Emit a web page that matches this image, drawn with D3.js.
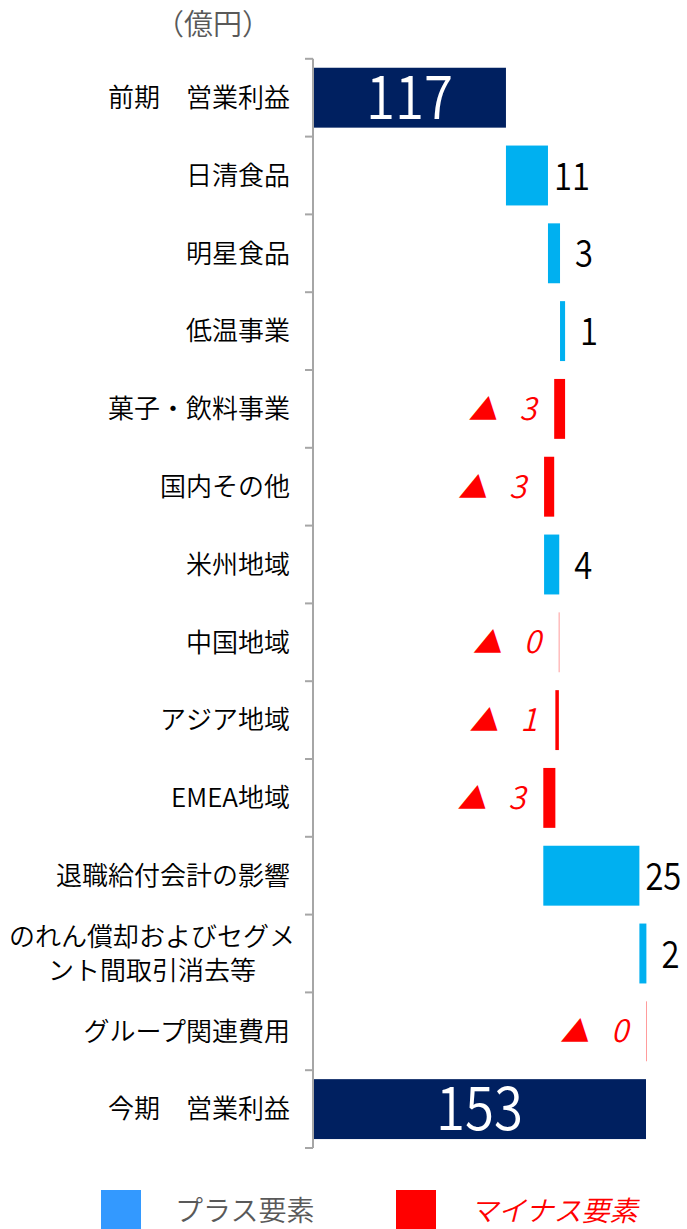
<!DOCTYPE html>
<html>
<head>
<meta charset="utf-8">
<title>営業利益 増減要因</title>
<style>
  body { margin: 0; background: #fff; }
  text { font-family: "Noto Sans CJK JP", "Noto Sans", sans-serif; font-weight: 350; }
</style>
</head>
<body>
<script src="https://cdn.jsdelivr.net/npm/d3@7"></script>
<script>
// categories, top to bottom
var categories = ["前期　営業利益", "日清食品", "明星食品", "低温事業", "菓子・飲料事業", "国内その他",
  "米州地域", "中国地域", "アジア地域", "EMEA地域", "退職給付会計の影響",
  "のれん償却およびセグメント間取引消去等", "グループ関連費用", "今期　営業利益"];
// label lines (wrapped as in the original)
var labelLines = [["前期　営業利益"], ["日清食品"], ["明星食品"], ["低温事業"], ["菓子・飲料事業"], ["国内その他"],
  ["米州地域"], ["中国地域"], ["アジア地域"], ["EMEA地域"], ["退職給付会計の影響"],
  ["のれん償却およびセグメ", "ント間取引消去等"], ["グループ関連費用"], ["今期　営業利益"]];
// change per step (first and last are totals), in 億円
var values = [117, 10.8, 3.1, 1.3, -2.8, -2.6, 3.9, -0.1, -0.9, -3.1, 24.7, 1.8, -0.1, 153];
// shown labels
var shown = ["117", "11", "3", "1", "3", "3", "4", "0", "1", "3", "25", "2", "0", "153"];
var kinds = ["total", "step", "step", "step", "step", "step", "step", "step", "step", "step", "step", "step", "step", "total"];

var legendItems = ["プラス要素", "マイナス要素"];

var W = 687, H = 1229;
var axisX = 313;

// build waterfall rows
var rows = [];
var run = 0;
values.forEach(function (v, i) {
  var r = {cat: categories[i], lines: labelLines[i], label: shown[i], kind: kinds[i], v: v};
  if (kinds[i] === "total") {
    r.x0 = null; r.x1 = v; run = v;
  } else {
    r.x0 = run; r.x1 = run + v; run = run + v;
  }
  rows.push(r);
});

var x = d3.scaleLinear().domain([67.4, 153]).range([axisX, 646]);
var y = d3.scaleBand().domain(categories).range([58.8, 1148]).paddingInner(0.23).paddingOuter(0.115);

var svg = d3.select("body").append("svg")
  .attr("width", W).attr("height", H);

// unit
svg.append("text")
  .attr("x", 213).attr("y", 35)
  .attr("text-anchor", "middle")
  .style("font-size", "29px").style("fill", "#595959")
  .text("（億円）");

// bars
svg.append("g").selectAll("rect")
  .data(rows).enter().append("rect")
  .attr("x", function (d) { return d.kind === "total" ? x.range()[0] : x(Math.min(d.x0, d.x1)); })
  .attr("width", function (d) {
    return d.kind === "total" ? x(d.x1) - x.range()[0] : Math.abs(x(d.x1) - x(d.x0));
  })
  .attr("y", function (d) { return y(d.cat); })
  .attr("height", y.bandwidth())
  .style("fill", function (d) {
    if (d.kind === "total") return "#002060";
    return d.v >= 0 ? "#00b0f0" : "#ff0000";
  });

// axis line and ticks at band boundaries
var step = y.step();
var bounds = categories.map(function (c) { return y(c) - step * y.paddingInner() / 2; });
bounds.push(y.range()[1]);
var ax = svg.append("g");
ax.append("line")
  .attr("x1", axisX).attr("x2", axisX)
  .attr("y1", y.range()[0]).attr("y2", y.range()[1])
  .style("stroke", "#a6a6a6").style("stroke-width", 2);
ax.selectAll(".tick").data(bounds).enter().append("line")
  .attr("x1", axisX - 8).attr("x2", axisX)
  .attr("y1", function (d) { return d; }).attr("y2", function (d) { return d; })
  .style("stroke", "#a6a6a6").style("stroke-width", 2);

// category labels
var cl = svg.append("g").selectAll("text")
  .data(rows).enter().append("text")
  .attr("text-anchor", function (d) { return d.lines.length > 1 ? "middle" : "end"; })
  .attr("x", function (d) { return d.lines.length > 1 ? 152 : 290; })
  .attr("y", function (d) { return y(d.cat) + y.bandwidth() / 2; })
  .style("font-size", "26px").style("fill", "#000");
cl.each(function (d) {
  var t = d3.select(this);
  var n = d.lines.length;
  d.lines.forEach(function (ln, k) {
    t.append("tspan")
      .attr("x", t.attr("x"))
      .attr("dy", k === 0 ? (0.36 - (n - 1) * 0.65) + "em" : "1.3em")
      .text(ln);
  });
});

// total labels (white, inside)
svg.append("g").selectAll("text")
  .data(rows.filter(function (d) { return d.kind === "total"; }))
  .enter().append("text")
  .attr("x", function (d) { return (x.range()[0] + x(d.x1)) / 2; })
  .attr("y", function (d) { return y(d.cat) + y.bandwidth() / 2 + 21; })
  .attr("text-anchor", "middle")
  .attr("textLength", function (d) { return d.label.length * 29; })
  .attr("lengthAdjust", "spacingAndGlyphs")
  .style("font-size", "60px").style("fill", "#fff")
  .text(function (d) { return d.label; });

// positive step labels
svg.append("g").selectAll("text")
  .data(rows.filter(function (d) { return d.kind === "step" && d.v >= 0; }))
  .enter().append("text")
  .attr("x", function (d) { return x(d.x1) + 24; })
  .attr("y", function (d) { return y(d.cat) + y.bandwidth() / 2 + 14; })
  .attr("text-anchor", "middle")
  .attr("textLength", function (d) { return d.label.length * 18; })
  .attr("lengthAdjust", "spacingAndGlyphs")
  .style("font-size", "38px").style("fill", "#000")
  .text(function (d) { return d.label; });

// negative step labels
var neg = svg.append("g").selectAll("text")
  .data(rows.filter(function (d) { return d.kind === "step" && d.v < 0; }))
  .enter().append("text")
  .attr("x", function (d) { return x(Math.min(d.x0, d.x1)) - 18; })
  .attr("y", function (d) { return y(d.cat) + y.bandwidth() / 2 + 11; })
  .attr("text-anchor", "end")
  .style("fill", "#ff0000").style("font-style", "italic");
neg.append("tspan").style("font-size", "29px").style("font-weight", 400).text("▲");
neg.append("tspan").attr("dx", 22).style("font-size", "31px").text(function (d) { return d.label; });

// legend
var lg = svg.append("g").attr("transform", "translate(0,1190)");
var legColors = ["#3399ff", "#ff0000"];
var legX = [101, 396];
legendItems.forEach(function (name, i) {
  lg.append("rect").attr("x", legX[i]).attr("y", 0).attr("width", 40).attr("height", 40)
    .style("fill", legColors[i]);
  lg.append("text").attr("x", legX[i] + 74).attr("y", 31)
    .style("font-size", "28px")
    .style("fill", i === 0 ? "#595959" : "#ff0000")
    .style("font-style", i === 0 ? "normal" : "italic")
    .text(name);
});
</script>
</body>
</html>
